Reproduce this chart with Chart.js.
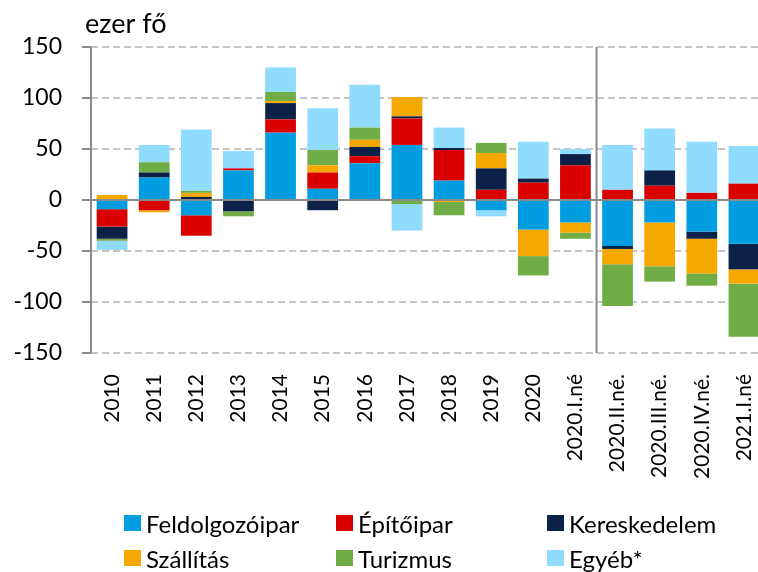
<!DOCTYPE html>
<html>
<head>
<meta charset="utf-8">
<script src="https://cdn.jsdelivr.net/npm/chart.js@4"></script>
<style>
  html, body { margin: 0; padding: 0; background: #fff; overflow: hidden; }
  #wrap { position: relative; width: 770px; height: 500px; }
  #legend { position: absolute; left: 0; top: 0; width: 758px; height: 572px; pointer-events: none;
            font-family: Lato, "Open Sans", sans-serif; font-size: 24px; color: #000; }
  .item { position: absolute; display: flex; align-items: center; white-space: nowrap; height: 16px; }
  .box { width: 17px; height: 16px; margin-right: 5px; flex: none; }
</style>
</head>
<body>
<div id="wrap"><canvas id="chart"></canvas></div>
<div id="legend"></div>
<script>
const categories = ["2010", "2011", "2012", "2013", "2014", "2015", "2016", "2017", "2018", "2019", "2020",
    "2020.I.né", "2020.II.né.", "2020.III.né.", "2020.IV.né.", "2021.I.né"];

const feldolgozoipar = [-9, 22, -15, 29, 66, 11, 36, 54, 19, -10, -29, -22, -45, -22, -31, -43];
const epitoipar      = [-17, -10, -20, 2, 13, 16, 7, 26, 30, 10, 17, 34, 10, 14, 7, 16];
const kereskedelem   = [-12, 5, 3, -11, 16, -10, 9, 2, 2, 21, 4, 11, -3, 15, -7, -25];
const szallitas      = [5, -2, 4, 0, 2, 7, 7, 19, -2, 15, -26, -10, -15, -43, -34, -14];
const turizmus       = [-2, 10, 2, -5, 9, 15, 12, -4, -13, 10, -19, -6, -41, -15, -12, -52];
const egyeb          = [-9, 17, 60, 17, 24, 41, 42, -26, 20, -6, 36, 5, 44, 41, 50, 37];

const yTicks = [-150, -100, -50, 0, 50, 100, 150];

const series = [
    { label: "Feldolgozóipar", data: feldolgozoipar, color: "#009EE0" },
    { label: "Építőipar", data: epitoipar, color: "#DA0000" },
    { label: "Kereskedelem", data: kereskedelem, color: "#0C2148" },
    { label: "Szállítás", data: szallitas, color: "#F5A800" },
    { label: "Turizmus", data: turizmus, color: "#70AD47" },
    { label: "Egyéb*", data: egyeb, color: "#8FDCFF" }
];

const FONT = "Lato, 'Open Sans', sans-serif";
const AXIS_GRAY = "#8a8a8a";

// zero line, left axis, period separator and unit label
const overlay = {
    id: "overlay",
    afterDatasetsDraw(chart) {
        const { ctx, chartArea: a, scales: { x, y } } = chart;
        ctx.save();
        ctx.strokeStyle = AXIS_GRAY;
        ctx.lineWidth = 2;
        ctx.setLineDash([]);
        const y0 = y.getPixelForValue(0);
        ctx.beginPath();
        ctx.moveTo(a.left, y0);
        ctx.lineTo(a.right, y0);
        ctx.stroke();
        ctx.beginPath();
        ctx.moveTo(a.left, a.top);
        ctx.lineTo(a.left, a.bottom);
        ctx.stroke();
        const sx = (x.getPixelForTick(11) + x.getPixelForTick(12)) / 2;
        ctx.beginPath();
        ctx.moveTo(sx, a.top);
        ctx.lineTo(sx, a.bottom);
        ctx.stroke();
        ctx.fillStyle = "#000";
        ctx.font = "27px " + FONT;
        ctx.textAlign = "left";
        ctx.textBaseline = "alphabetic";
        ctx.fillText("ezer fő", 85, 33);
        ctx.restore();
    }
};

new Chart(document.getElementById("chart"), {
    type: "bar",
    data: {
        labels: categories,
        datasets: series.map(s => ({
            label: s.label,
            data: s.data,
            backgroundColor: s.color,
            borderWidth: 0,
            categoryPercentage: 1,
            barPercentage: 0.73
        }))
    },
    options: {
        responsive: true,
        maintainAspectRatio: false,
        animation: false,
        layout: { padding: { top: 47, right: 5, left: 0, bottom: 0 } },
        plugins: {
            legend: { display: false },
            tooltip: { enabled: false }
        },
        scales: {
            x: {
                stacked: true,
                grid: { display: false },
                border: { display: false },
                ticks: {
                    color: "#000",
                    font: { family: FONT, size: 21 },
                    minRotation: 90,
                    maxRotation: 90,
                    autoSkip: false,
                    padding: 13
                },
                afterFit(s) {
                    s.height = 147;
                    s.paddingLeft = 0;
                    s.paddingRight = 0;
                }
            },
            y: {
                stacked: true,
                min: -150,
                max: 150,
                afterBuildTicks(s) {
                    s.ticks = yTicks.map(v => ({ value: v }));
                },
                grid: {
                    color: "#c4c4c4",
                    lineWidth: 2,
                    tickColor: AXIS_GRAY,
                    tickLength: 9,
                    tickWidth: 2,
                    tickBorderDash: []
                },
                border: { display: false, dash: [7, 4] },
                ticks: {
                    color: "#000",
                    font: { family: FONT, size: 23 },
                    padding: 20
                },
                afterFit(s) {
                    s.width = 91;
                }
            }
        }
    },
    plugins: [overlay]
});

// legend laid out in three columns like the original
const legendPos = [[124, 515], [336, 515], [547, 515], [124, 550], [336, 550], [547, 550]];
const legend = document.getElementById("legend");
series.forEach((s, i) => {
    const el = document.createElement("div");
    el.className = "item";
    el.style.left = legendPos[i][0] + "px";
    el.style.top = legendPos[i][1] + "px";
    el.innerHTML = `<span class="box" style="background:${s.color}"></span><span>${s.label}</span>`;
    legend.appendChild(el);
});
</script>
</body>
</html>
